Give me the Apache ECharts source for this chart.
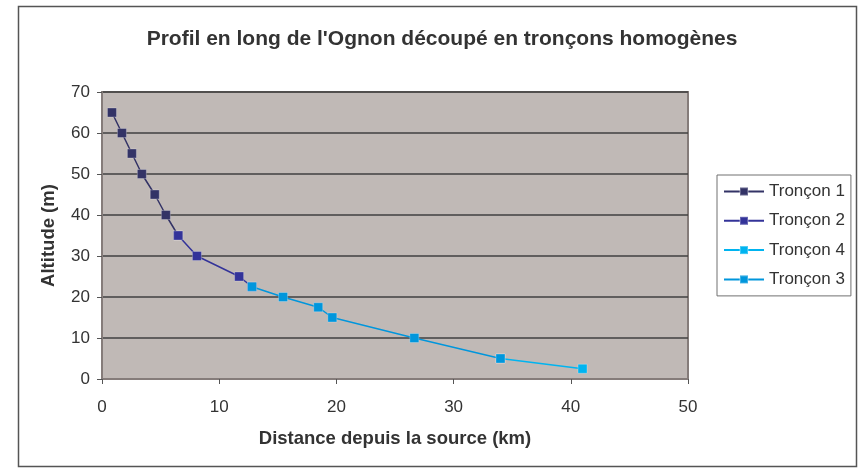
<!DOCTYPE html>
<html><head><meta charset="utf-8">
<script src="https://cdn.jsdelivr.net/npm/echarts@6/dist/echarts.min.js"></script>
<style>html,body{margin:0;padding:0;background:#fff}#c{width:859px;height:470px}</style>
</head><body><div id="c"></div>
<script>
const titleText = "Profil en long de l'Ognon découpé en tronçons homogènes";
const xName = "Distance depuis la source (km)";
const yName = "Altitude (m)";
const seriesNames = ["Tronçon 1", "Tronçon 2", "Tronçon 4", "Tronçon 3"];
const troncon1 = [[0.85,65],[1.7,60],[2.55,55],[3.4,50],[4.5,45],[5.45,40],[6.5,35]];
const troncon2 = [[6.5,35],[8.1,30],[11.7,25],[12.8,22.5]];
const troncon4 = [[34,5],[41,2.5]];
const troncon3 = [[12.8,22.5],[15.45,20],[18.45,17.5],[19.65,15],[26.65,10],[34,5]];
const colors = ["#333366", "#333399", "#00b4f0", "#0096dc"];

const chart = echarts.init(document.getElementById('c'), null, {renderer:'canvas'});
const font = 'Liberation Sans, Arial, sans-serif';
const dataSets = [troncon1, troncon2, troncon4, troncon3];
chart.setOption({
  animation:false,
  backgroundColor:'#ffffff',
  title:{text:titleText,left:437,textAlign:'center',top:24,
    textStyle:{fontFamily:font,fontWeight:'bold',fontSize:21,color:'#333333'}},
  graphic:[{type:'rect',shape:{x:18.5,y:6.5,width:838,height:460},style:{fill:'none',stroke:'#555',lineWidth:1.5},z:-1}],
  grid:{left:102,top:92,right:171,bottom:91,show:true,backgroundColor:'#c0b9b6',borderColor:'#857c7a',borderWidth:2},
  legend:{orient:'vertical',left:717,top:175,width:134,padding:[8,6,8,6],itemGap:12.3,
    itemWidth:40,itemHeight:10,borderColor:'#707070',borderWidth:1,backgroundColor:'#fff',
    textStyle:{fontFamily:font,fontSize:17,color:'#333'},data:seriesNames},
  xAxis:{type:'value',min:0,max:50,interval:10,
    name:xName,nameLocation:'middle',nameGap:50,
    nameTextStyle:{fontFamily:font,fontWeight:'bold',fontSize:18.5,color:'#333'},
    axisLine:{show:true,lineStyle:{color:'#857c7a',width:2}},
    axisTick:{show:true,length:5,lineStyle:{color:'#555',width:1}},
    axisLabel:{fontFamily:font,fontSize:17,color:'#333',margin:20},
    splitLine:{show:false}},
  yAxis:{type:'value',min:0,max:70,interval:10,
    name:yName,nameLocation:'middle',nameGap:44,nameRotate:90,
    nameTextStyle:{fontFamily:font,fontWeight:'bold',fontSize:18.5,color:'#333'},
    axisLine:{show:true,lineStyle:{color:'#857c7a',width:2}},
    axisTick:{show:true,length:5,lineStyle:{color:'#555',width:1}},
    axisLabel:{fontFamily:font,fontSize:17,color:'#333',margin:12},
    splitLine:{show:true,lineStyle:{color:'#404040',width:1.5}}},
  series:dataSets.map((d,i)=>({
    name:seriesNames[i],type:'line',data:d,symbol:'rect',symbolSize:9,
    lineStyle:{color:colors[i],width:1.5},
    itemStyle:{color:colors[i],borderColor:'rgba(255,255,255,0.25)',borderWidth:1},
    z:2+i
  }))
});
</script></body></html>
